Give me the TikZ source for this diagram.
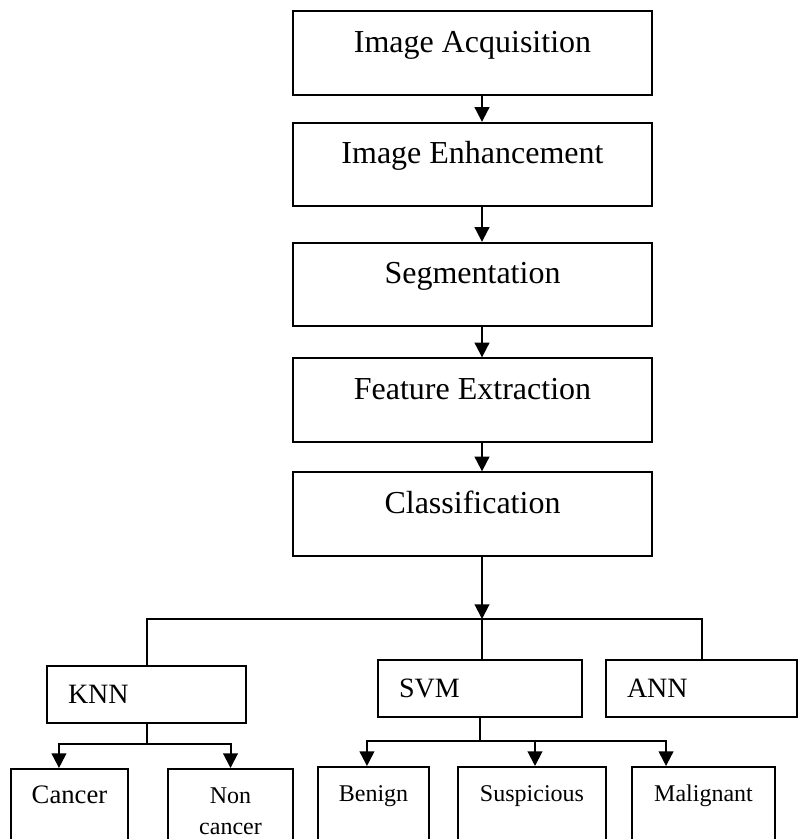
\documentclass[tikz,border=0pt]{standalone}
\usepackage{fontspec}
\setmainfont{Liberation Serif}
\usetikzlibrary{arrows.meta}

\tikzset{
	stage/.style={draw, line width=1.5pt, minimum width=269pt, minimum height=62.5pt,
		text height=11.5pt, text depth=12.5pt, font=\fontsize{24}{29}\selectfont},
	method/.style={draw, line width=1.5pt, minimum height=42.75pt, inner xsep=15.75pt,
		align=left, font=\fontsize{21}{25}\selectfont},
	result/.style={draw, line width=1.5pt, anchor=north, inner xsep=0pt, inner ysep=0pt,
		align=center, text height=25.5pt, text depth=60pt, font=\fontsize{18}{23.25}\selectfont},
	flow/.style={line width=1.5pt, -{Triangle[width=11pt, length=11pt]}},
	link/.style={line width=1.5pt}
}

\begin{document}
\begin{tikzpicture}[x=0.75pt, y=-0.75pt]
			\useasboundingbox (0, 0) rectangle (798, 839);
			\clip (0, 0) rectangle (798, 839);

			\node[stage] (acq) at (472.5, 53) {Image Acquisition};
			\node[stage] (enh) at (472.5, 164.5) {Image Enhancement};
			\node[stage] (seg) at (472.5, 284.5) {Segmentation};
			\node[stage] (fex) at (472.5, 400) {Feature Extraction};
			\node[stage] (cls) at (472.5, 514) {Classification};

			\coordinate (col) at (482, 0);
			\draw[flow] (acq.south -| col) -- (enh.north -| col);
			\draw[flow] (enh.south -| col) -- (seg.north -| col);
			\draw[flow] (seg.south -| col) -- (fex.north -| col);
			\draw[flow] (fex.south -| col) -- (cls.north -| col);

			\node[method, text width=117.75pt] (knn) at (146.5, 694.5) {KNN};
			\node[method, text width=121.5pt] (svm) at (480, 688.5) {SVM};
			\node[method, text width=111.75pt] (ann) at (701.5, 688.5) {ANN};

			\coordinate (split) at (482, 619);
			\draw[flow] (cls.south -| col) -- (split);
			\draw[link] (knn.north) |- (split) -| (ann.north);
			\draw[link] (split) -- (split |- svm.north);

			\node[result, text width=87.75pt, font=\fontsize{20}{24}\selectfont] (cancer) at (69.5, 768) {Cancer};
			\node[result, text width=93.75pt] (noncancer) at (230.5, 768) {Non\\cancer};
			\node[result, text width=83.25pt] (benign) at (373.5, 766) {Benign};
			\node[result, text width=111pt] (suspicious) at (532, 766) {Suspicious};
			\node[result, text width=107.25pt] (malignant) at (703.5, 766) {Malignant};

			\draw[link] (knn.south) -- ++(0, 20) coordinate (kj);
			\draw[flow] (kj) -| ([xshift=-7.9pt]cancer.north);
			\draw[flow] (kj) -| (noncancer.north);

			\draw[link] (svm.south) -- ++(0, 23) coordinate (sj);
			\draw[flow] (sj) -| ([xshift=-4.9pt]benign.north);
			\draw[flow] (sj) -| ([xshift=2.25pt]suspicious.north);
			\draw[flow] (sj) -| ([xshift=-28.1pt]malignant.north);

		\end{tikzpicture}
\end{document}
